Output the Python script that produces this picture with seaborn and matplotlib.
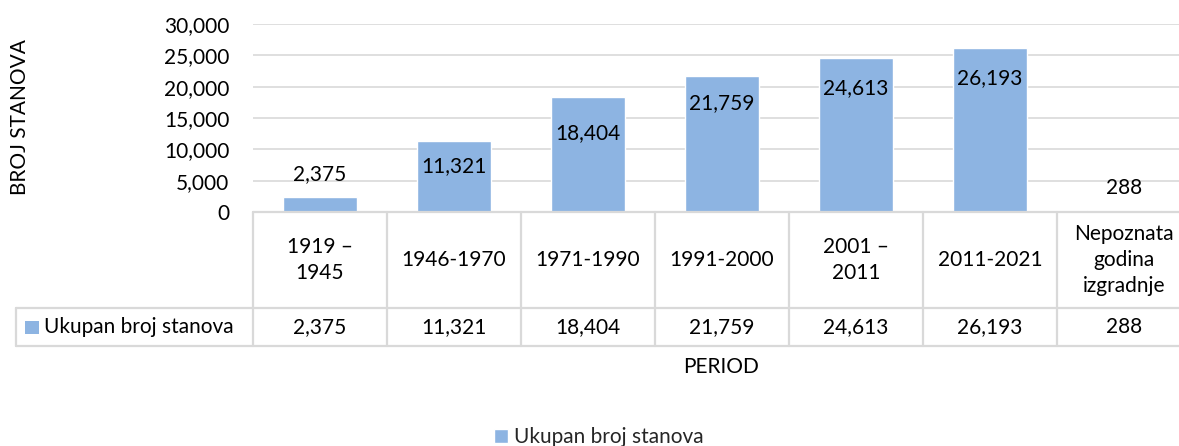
import matplotlib.pyplot as plt
import seaborn as sns
import pandas as pd
from matplotlib.patches import Rectangle
from matplotlib.transforms import blended_transform_factory

# data
periods = ['1919 –\n1945', '1946-1970', '1971-1990', '1991-2000',
           '2001 –\n2011', '2011-2021', 'Nepoznata\ngodina\nizgradnje']
stanovi = [2375, 11321, 18404, 21759, 24613, 26193, 288]
series_name = 'Ukupan broj stanova'
yticks = [0, 5000, 10000, 15000, 20000, 25000, 30000]

# where the value labels sit (data units), as placed in the original
label_y = [6064, 7340, 12606, 17393, 19787, 21383, 3830]

bar_color = '#8DB4E2'
line_color = '#d9d9d9'
fs = 15

sns.set_theme(style='white')
plt.rcParams['font.family'] = ['Lato', 'DejaVu Sans']

W, H = 1179, 446
fig = plt.figure(figsize=(W / 100, H / 100), dpi=100)
ax = fig.add_axes([253 / W, 1 - 212 / H, 938 / W, 188 / H])


def fy(p):
    return 1 - p / H


df = pd.DataFrame({'Period': periods, 'Broj': stanovi})
sns.barplot(data=df, x='Period', y='Broj', color=bar_color, width=0.55,
            saturation=1, label=series_name, ax=ax)
if ax.get_legend():
    ax.get_legend().remove()

ax.set_xlim(-0.5, 6.5)
ax.set_ylim(0, 30000)
ax.set_yticks(yticks)
ax.set_yticklabels([f'{v:,}' for v in yticks])
ax.tick_params(axis='y', length=0, pad=17, labelsize=fs, labelcolor='black')
ax.tick_params(axis='x', length=0, labelbottom=False)
ax.set_xlabel('')
ax.set_ylabel('')
ax.grid(axis='y', color=line_color, lw=1.2)
ax.set_axisbelow(True)
for s in ax.spines.values():
    s.set_visible(False)

# value labels on bars
for i, (v, ly) in enumerate(zip(stanovi, label_y)):
    ax.text(i, ly, f'{v:,}', ha='center', va='center', fontsize=fs, color='black')

# data table below the plot
trans = blended_transform_factory(ax.transData, fig.transFigure)
n = len(periods)
lw = 1.6
ax.plot([-0.5, n - 0.5], [fy(212), fy(212)], transform=trans, color=line_color,
        lw=lw, clip_on=False)
for yy in [308, 346]:
    fig.add_artist(plt.Line2D([16 / W, 1.0], [fy(yy), fy(yy)], color=line_color, lw=lw))
fig.add_artist(plt.Line2D([16 / W, 16 / W], [fy(308), fy(346)], color=line_color, lw=lw))
for k in range(n + 1):
    ax.plot([k - 0.5, k - 0.5], [fy(212), fy(346)], transform=trans,
            color=line_color, lw=lw, clip_on=False)

for i, (p, v) in enumerate(zip(periods, stanovi)):
    ax.text(i, fy(260), p, transform=trans, ha='center', va='center',
            fontsize=fs, color='black', linespacing=1.4, clip_on=False)
    ax.text(i, fy(327), f'{v:,}', transform=trans, ha='center', va='center',
            fontsize=fs, color='black', clip_on=False)

fig.add_artist(Rectangle((25 / W, fy(334)), 14 / W, 13 / H, transform=fig.transFigure,
                         facecolor=bar_color, edgecolor='none'))
fig.text(44 / W, fy(327), series_name, ha='left', va='center', fontsize=fs, color='black')

# axis titles
fig.text(20 / W, fy(117), 'BROJ STANOVA', rotation=90, ha='center', va='center',
         fontsize=fs, color='black')
fig.text(721 / W, fy(367), 'PERIOD', ha='center', va='center', fontsize=fs, color='black')

# legend
handles, labels = ax.get_legend_handles_labels()
fig.legend(handles[:1], labels[:1], loc='center', bbox_to_anchor=(599 / W, fy(437)),
           frameon=False, fontsize=fs, handlelength=0.65, handleheight=0.65,
           handletextpad=0.3, borderpad=0, borderaxespad=0)

fig.savefig('out.png', dpi=100)
